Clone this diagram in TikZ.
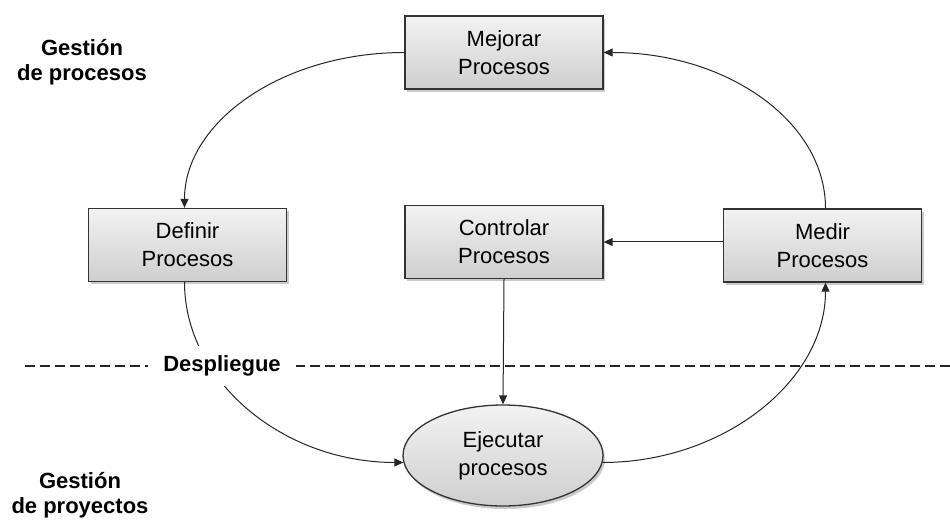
\documentclass[tikz,border=0pt]{standalone}
\usepackage{fontspec}
\setmainfont{Liberation Sans}
\usetikzlibrary{arrows.meta,shapes.geometric,shadows}
\begin{document}
\begin{tikzpicture}[x=1pt,y=-1pt,
  shd/.style={drop shadow={shadow xshift=2pt,shadow yshift=-3pt,fill=black!45,opacity=0.45}},
  proc/.style={shd,draw=black!80, line width=1.3pt, top color=gray!10, bottom color=gray!38,
    minimum width=198pt, minimum height=73pt, align=center, inner sep=0pt,
    font=\fontsize{22}{28}\selectfont},
  exec/.style={shd,ellipse,draw=black!80, line width=1.3pt, top color=gray!10, bottom color=gray!38,
    minimum width=200pt, minimum height=101pt, align=center, inner sep=0pt,
    font=\fontsize{22}{28}\selectfont},
  arr/.style={draw=black!85, line width=1pt, -{Triangle[length=9pt,width=8pt]}},
  sidelbl/.style={align=center, font=\bfseries\fontsize{22}{25}\selectfont},
  sep/.style={draw=black!85, line width=1.3pt, dash pattern=on 10pt off 5pt}
]
\useasboundingbox (0,0) rectangle (950,521);

\node[proc] (mej) at (504,52.5) {Mejorar\\Procesos};
\node[proc] (def) at (187.5,245) {Definir\\Procesos};
\node[proc] (con) at (504,242) {Controlar\\Procesos};
\node[proc] (med) at (822.5,245.5) {Medir\\Procesos};
\node[exec] (ell) at (503,455.5) {Ejecutar\\procesos};

\node[sidelbl] (gp1) at (82,62) {Gestión\\de procesos};
\node[sidelbl] (gp2) at (80,495) {Gestión\\de proyectos};

\draw[sep] (25,366) -- (950,366);

\draw[arr] (mej.west) .. controls +(-122,0) and +(0,-86) .. ([xshift=-3pt]def.north);
\draw[arr] ([xshift=3pt]med.north) .. controls +(0,-87) and +(123,0) .. (mej.east);
\draw[arr] ([xshift=-3pt]def.south) .. controls +(0,99) and +(-120,0) .. (ell.184);
\draw[arr] (ell.-4) .. controls +(120,0) and +(0,99) .. ([xshift=3pt]med.south);
\draw[arr] (con.south) -- (ell.north);
\draw[arr] (con.east -| med.west) -- (con.east);

\node[fill=white, inner xsep=15pt, inner ysep=10pt, font=\bfseries\fontsize{22}{25}\selectfont] (dep) at (222,366) {Despliegue};
\end{tikzpicture}
\end{document}
